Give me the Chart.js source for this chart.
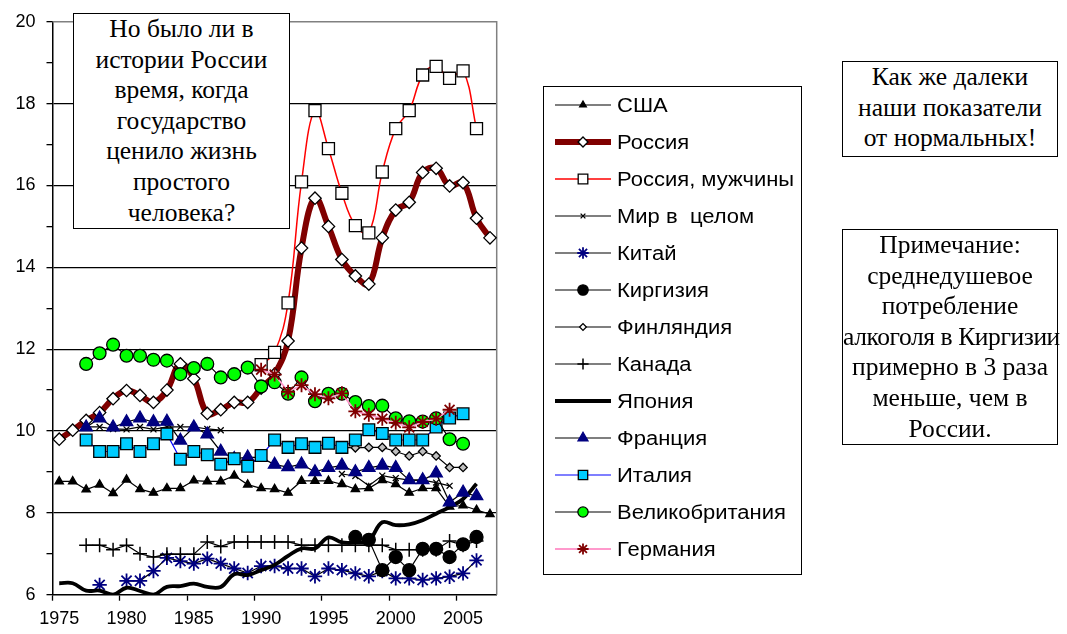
<!DOCTYPE html>
<html>
<head>
<meta charset="utf-8">
<script src="https://cdn.jsdelivr.net/npm/chart.js@4.4.1/dist/chart.umd.min.js"></script>
<style>
body{margin:0;background:#fff;}
#wrap{position:relative;width:1067px;height:634px;overflow:hidden;}
#c{position:absolute;left:0;top:0;}
.note{position:absolute;box-sizing:border-box;border:1.5px solid #000;background:#fff;color:#000;white-space:nowrap;
  font-family:"Liberation Serif","Times New Roman",serif;font-size:25.5px;line-height:30.6px;text-align:center;}
</style>
</head>
<body>
<div id="wrap">
  <canvas id="c" width="1067" height="634"></canvas>
  <div class="note" style="left:73px;top:13px;width:217px;height:216px;">Но было ли в<br>истории России<br>время, когда<br>государство<br>ценило жизнь<br>простого<br>человека?</div>
  <div class="note" style="left:842px;top:61px;width:216px;height:96px;">Как же далеки<br>наши показатели<br>от нормальных!</div>
  <div class="note" style="left:842px;top:229px;width:216px;height:216px;">Примечание:<br>среднедушевое<br>потребление<br><span style="letter-spacing:-0.4px">алкоголя в Киргизии</span><br>примерно в 3 раза<br>меньше, чем в<br>России.</div>
</div>
<script>
// годы 1975..2007
const years = [];
for(let y=1975; y<=2007; y++) years.push(String(y));
const yTicks = [6,8,10,12,14,16,18,20];

// литров на душу населения в год
const usa = [8.77,8.77,8.57,8.69,8.48,8.81,8.58,8.49,8.6,8.6,8.79,8.77,8.77,8.91,8.69,8.6,8.58,8.49,8.78,8.78,8.78,8.7,8.58,8.6,8.8,8.7,8.49,8.6,8.6,8.15,8.18,8.07,7.97];
const russia = [9.8,10.02,10.26,10.45,10.79,10.99,10.87,10.7,11.0,11.64,11.28,10.43,10.52,10.7,10.7,11.05,11.39,12.2,14.47,15.69,15.0,14.19,13.79,13.59,14.72,15.4,15.59,16.32,16.42,15.99,16.07,15.2,14.72];
const russiaMen = [null,null,null,null,null,null,null,null,null,null,null,null,null,null,null,11.62,11.92,13.13,16.09,17.83,16.9,15.81,15.02,14.84,16.33,17.39,17.83,18.7,18.91,18.62,18.8,17.39,null];
const world = [null,null,10.1,10.1,10.05,10.04,10.1,10.04,10.1,10.1,10.1,10.05,10.02,null,null,null,null,null,null,null,null,8.95,8.9,8.66,8.91,8.85,8.8,8.8,8.74,8.66,null,null,null];
const china = [null,null,null,6.24,null,6.34,6.34,6.58,6.9,6.82,6.76,6.88,6.76,6.64,6.53,6.7,6.7,6.64,6.64,6.45,6.64,6.6,6.52,6.45,6.58,6.4,6.4,6.36,6.4,6.44,6.52,6.84,null];
const kyrgyz = [null,null,null,null,null,null,null,null,null,null,null,null,null,null,null,null,null,null,null,null,null,null,7.41,7.34,6.6,6.92,6.6,7.12,7.12,6.92,7.23,7.41,null];
const finland = [null,null,null,null,null,null,null,null,null,null,null,null,null,null,null,null,null,null,null,null,null,9.6,9.59,9.6,9.6,9.5,9.39,9.5,9.39,9.11,9.11,null,null];
const canada = [null,null,7.21,7.21,7.1,7.21,7.0,6.92,6.99,6.99,6.99,7.29,7.18,7.29,7.29,7.29,7.29,7.29,7.21,7.21,7.21,7.21,7.21,7.21,7.21,7.1,7.1,7.1,7.1,7.31,7.21,7.31,null];
const japan = [6.28,6.28,6.1,6.1,6.0,6.17,6.09,6.0,6.19,6.21,6.27,6.19,6.19,6.5,6.48,6.6,6.73,6.95,7.13,7.13,7.4,7.28,7.28,7.33,7.77,7.7,7.72,7.82,7.98,8.14,8.34,8.71,null];
const france = [null,null,10.09,10.31,10.09,10.22,10.31,10.22,10.23,9.77,10.09,9.92,9.5,9.32,9.36,9.35,9.18,9.12,9.19,9.0,9.1,9.16,9.0,9.1,9.16,9.1,8.8,8.8,8.97,8.26,8.5,8.41,null];
const italy = [null,null,9.78,9.5,9.5,9.69,9.5,9.69,9.93,9.31,9.5,9.42,9.19,9.32,9.14,9.4,9.78,9.6,9.69,9.6,9.7,9.6,9.78,10.03,9.94,9.78,9.78,9.78,10.1,10.32,10.42,null,null];
const uk = [null,null,11.64,11.9,12.11,11.84,11.84,11.74,11.72,11.39,11.54,11.64,11.31,11.39,11.55,11.09,11.19,10.91,11.31,10.73,10.91,10.91,10.71,10.61,10.62,10.31,10.24,10.23,10.31,9.8,9.69,null,null];
const germany = [null,null,null,null,null,null,null,null,null,null,null,null,null,null,null,11.5,11.38,10.96,11.12,10.9,10.8,10.92,10.48,10.4,10.3,10.2,10.09,10.22,10.3,10.52,null,null,null];

function line(label, data, color, width, style, radius, fill, border, tension){
  return {
    label, data,
    borderColor: color, borderWidth: width,
    pointStyle: style || 'circle', pointRadius: radius || 0, pointHoverRadius: radius || 0,
    pointBackgroundColor: fill || '#000', pointBorderColor: border || '#000', pointBorderWidth: 1.3,
    tension: tension || 0, spanGaps: false, fill: false
  };
}

const datasets = [
  line('США', usa, '#000', 1.2, 'triangle', 4.8, '#000', '#000'),
  line('Россия', russia, '#800000', 6, 'rectRot', 6.2, '#fff', '#000', 0.4),
  line('Россия, мужчины', russiaMen, '#ff0000', 1.5, 'rect', 8.5, '#fff', '#000', 0.4),
  line('Мир в  целом', world, '#000', 1.2, 'crossRot', 4.2, '#000', '#000'),
  line('Китай', china, '#000', 1.2, 'star', 7.2, '#000080', '#000080'),
  line('Киргизия', kyrgyz, '#000', 1.2, 'circle', 6.5, '#000', '#000'),
  line('Финляндия', finland, '#000', 1.2, 'rectRot', 4.2, '#c0c0c0', '#000'),
  line('Канада', canada, '#000', 1.2, 'cross', 7, '#000', '#000'),
  line('Япония', japan, '#000', 3.8, 'circle', 0, '#000', '#000', 0.4),
  line('Франция', france, '#000', 1.2, 'triangle', 7.2, '#000080', '#000080'),
  line('Италия', italy, '#0000ff', 1.2, 'rect', 8.3, '#00ccff', '#000'),
  line('Великобритания', uk, '#000', 1.2, 'circle', 6.4, '#00ff00', '#000'),
  line('Германия', germany, '#ff99cc', 1.8, 'star', 7, '#800000', '#800000')
];
// как в Excel: более поздние ряды поверх
datasets.forEach((d,i)=>{ d.order = datasets.length - i; });
datasets[4].pointBorderWidth = 1.8;
datasets[7].pointBorderWidth = 1.5;
datasets[12].pointBorderWidth = 1.8;

function drawLegend(chart){
  const ctx = chart.ctx;
  ctx.save();
  ctx.fillStyle = '#fff';
  ctx.fillRect(543, 86, 258, 488);
  ctx.strokeStyle = '#000'; ctx.lineWidth = 1;
  ctx.strokeRect(543.5, 86.5, 258, 488);
  chart.data.datasets.forEach((ds,i)=>{
    const y = 105 + i*37;
    ctx.strokeStyle = ds.borderColor; ctx.lineWidth = ds.borderWidth;
    ctx.beginPath(); ctx.moveTo(555, y); ctx.lineTo(611, y); ctx.stroke();
    if(ds.pointRadius > 0){
      ctx.fillStyle = ds.label === 'Финляндия' ? '#fff' : ds.pointBackgroundColor;
      ctx.strokeStyle = ds.pointBorderColor;
      ctx.lineWidth = ds.pointBorderWidth;
      Chart.helpers.drawPoint(ctx, {pointStyle: ds.pointStyle, radius: ds.pointRadius*0.8, borderWidth: ds.pointBorderWidth, rotation: 0}, 583, y);
    }
    // подписи чуть растянуты по горизонтали
    ctx.save();
    ctx.translate(617, y + 1);
    ctx.scale(1.1, 1);
    ctx.fillStyle = '#000';
    ctx.font = '20px "Liberation Sans", Arial, sans-serif';
    ctx.textBaseline = 'middle';
    ctx.fillText(ds.label, 0, 0);
    ctx.restore();
  });
  ctx.restore();
}

const frame = {
  id: 'frame',
  beforeDatasetsDraw(chart){
    const {ctx, chartArea: a} = chart;
    ctx.save();
    ctx.strokeStyle = '#808080'; ctx.lineWidth = 1.5;
    ctx.beginPath();
    ctx.moveTo(a.left, a.top); ctx.lineTo(a.right, a.top); ctx.lineTo(a.right, a.bottom);
    ctx.stroke();
    ctx.restore();
  },
  afterDraw(chart){ drawLegend(chart); }
};

new Chart(document.getElementById('c'), {
  type: 'line',
  data: { labels: years, datasets },
  plugins: [frame],
  options: {
    responsive: false,
    animation: false,
    layout: { autoPadding: false, padding: { top: 18.3, right: 570.3, left: 0, bottom: 0 } },
    plugins: { legend: { display: false }, tooltip: { enabled: false } },
    scales: {
      x: {
        type: 'category',
        offset: true,
        afterFit(s){ s.height = 39.3; },
        border: { color: '#000', width: 1.5 },
        grid: {
          offset: true, drawOnChartArea: false, tickLength: 6, tickWidth: 1.3,
          tickColor: c => (c.index !== undefined && c.index % 5 === 0) ? '#000' : 'rgba(0,0,0,0)'
        },
        ticks: {
          autoSkip: false, maxRotation: 0, padding: 7.5, color: '#000',
          font: { family: '"Liberation Sans", Arial, sans-serif', size: 18 },
          callback: (v, i) => i % 5 === 0 ? years[i] : ''
        }
      },
      y: {
        min: 6, max: 20,
        afterFit(s){ s.width = 52.5; },
        border: { color: '#000', width: 1.5 },
        grid: {
          tickLength: 6, tickWidth: 1.3, tickColor: '#000', lineWidth: 1.3,
          color: c => {
            const v = c.tick ? c.tick.value : 0;
            return (v > 6 && v < 20 && v % 2 === 0) ? '#000' : 'rgba(0,0,0,0)';
          }
        },
        ticks: {
          stepSize: 1, padding: 11, color: '#000',
          font: { family: '"Liberation Sans", Arial, sans-serif', size: 18 },
          callback: v => yTicks.includes(v) ? v : ''
        }
      }
    }
  }
});
</script>
</body>
</html>
